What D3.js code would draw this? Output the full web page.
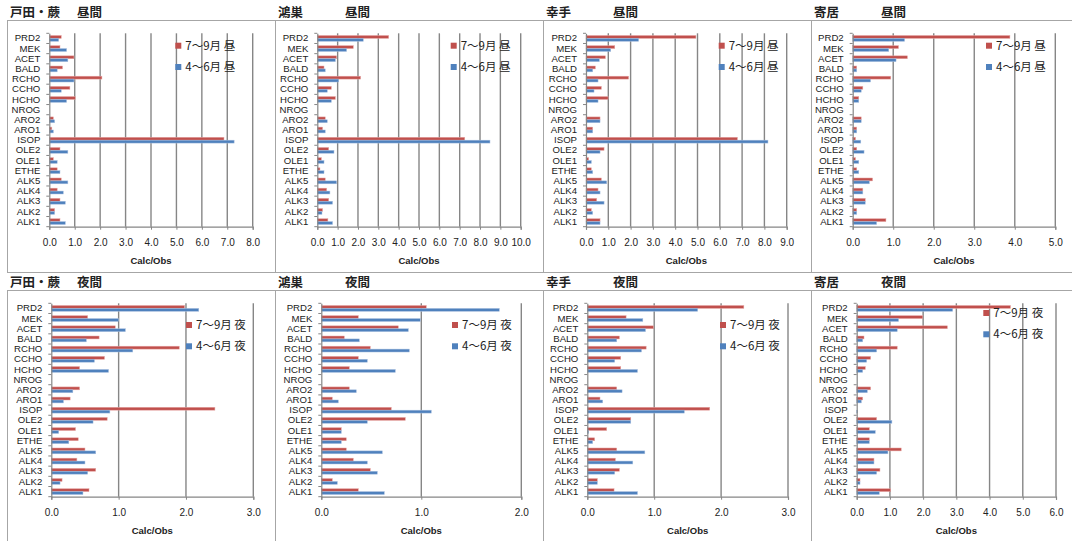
<!DOCTYPE html>
<html><head><meta charset="utf-8">
<script src="https://cdn.jsdelivr.net/npm/d3@7"></script>
<style>
body{margin:0;background:#fff;}
svg{display:block;}
</style></head>
<body>
<svg id="chart" width="1072" height="541"></svg>
<script>
// ---------- data ----------
const categories = ["PRD2","MEK","ACET","BALD","RCHO","CCHO","HCHO","NROG","ARO2","ARO1","ISOP","OLE2","OLE1","ETHE","ALK5","ALK4","ALK3","ALK2","ALK1"];
const sites = ["戸田・蕨","鴻巣","幸手","寄居"];
const periods = ["昼間","夜間"];
const seriesDay = ["7～9月 昼","4～6月 昼"];
const seriesNight = ["7～9月 夜","4～6月 夜"];
const axisTitle = "Calc/Obs";
const xMaxDay = [8, 10, 9, 5];
const xMaxNight = [3, 2, 3, 6];

// 昼間 (day)
const todaDaySummer   = [0.47,0.42,0.97,0.52,2.07,0.81,1.02,0,0.16,0.10,6.87,0.42,0.16,0.31,0.47,0.31,0.42,0.21,0.42];
const todaDaySpring   = [0.37,0.68,0.73,0.31,0.97,0.47,0.68,0,0.21,0.16,7.27,0.73,0.31,0.42,0.73,0.55,0.63,0.21,0.63];
const konosuDaySummer = [3.51,1.77,0.95,0.33,2.13,0.69,0.89,0,0.39,0.26,7.25,0.56,0.20,0.13,0.39,0.46,0.56,0.26,0.52];
const konosuDaySpring = [2.26,1.44,0.89,0.39,1.05,0.49,0.69,0,0.49,0.39,8.49,0.82,0.33,0.33,0.95,0.62,0.75,0.23,0.75];
const satteDaySummer  = [4.93,1.29,0.87,0.42,1.91,0.69,0.99,0,0.63,0.30,6.79,0.81,0.12,0.24,0.69,0.54,0.48,0.24,0.63];
const satteDaySpring  = [2.36,1.11,0.60,0.30,0.54,0.36,0.54,0,0.63,0.30,8.16,0.63,0.24,0.30,0.93,0.63,0.81,0.30,0.63];
const yoriiDaySummer  = [3.88,1.13,1.35,0.10,0.94,0.25,0.15,0,0.21,0.10,0.07,0.10,0.07,0.10,0.49,0.25,0.31,0.10,0.82];
const yoriiDaySpring  = [1.28,0.89,1.07,0.10,0.44,0.21,0.15,0,0.21,0.10,0.20,0.28,0.15,0.15,0.41,0.25,0.31,0.10,0.59];
// 夜間 (night)
const todaNightSummer   = [1.98,0.54,0.95,0.71,1.90,0.79,0.42,0,0.42,0.28,2.43,0.83,0.36,0.40,0.50,0.38,0.66,0.16,0.56];
const todaNightSpring   = [2.19,1.00,1.10,0.52,1.21,0.64,0.85,0,0.32,0.18,0.87,0.62,0.11,0.26,0.66,0.50,0.54,0.13,0.47];
const konosuNightSummer = [1.05,0.37,0.77,0.23,0.49,0.37,0.28,0,0.28,0.11,0.70,0.84,0.20,0.25,0.25,0.32,0.49,0.11,0.37];
const konosuNightSpring = [1.78,0.99,0.87,0.38,0.88,0.46,0.74,0,0.35,0.17,1.10,0.46,0.20,0.20,0.61,0.46,0.56,0.16,0.63];
const satteNightSummer  = [2.34,0.58,0.99,0.48,0.88,0.50,0.50,0,0.44,0.19,1.83,0.65,0.29,0.11,0.44,0.42,0.48,0.15,0.40];
const satteNightSpring  = [1.65,0.83,0.87,0.44,0.81,0.41,0.75,0,0.52,0.23,1.45,0.65,0.02,0.08,0.86,0.68,0.41,0.15,0.75];
const yoriiNightSummer  = [4.63,1.99,2.73,0.22,1.22,0.42,0.26,0,0.42,0.18,0.00,0.60,0.38,0.38,1.34,0.52,0.70,0.10,1.02];
const yoriiNightSpring  = [2.89,1.26,1.22,0.18,0.60,0.30,0.18,0,0.32,0.14,0.03,1.06,0.56,0.38,0.94,0.52,0.60,0.10,0.68];

// ---------- panel table ----------
const panels = [
  {site:sites[0], period:periods[0], names:seriesDay, a:todaDaySummer,   b:todaDaySpring,   max:xMaxDay[0]},
  {site:sites[1], period:periods[0], names:seriesDay, a:konosuDaySummer, b:konosuDaySpring, max:xMaxDay[1]},
  {site:sites[2], period:periods[0], names:seriesDay, a:satteDaySummer,  b:satteDaySpring,  max:xMaxDay[2]},
  {site:sites[3], period:periods[0], names:seriesDay, a:yoriiDaySummer,  b:yoriiDaySpring,  max:xMaxDay[3]},
  {site:sites[0], period:periods[1], names:seriesNight, a:todaNightSummer,   b:todaNightSpring,   max:xMaxNight[0]},
  {site:sites[1], period:periods[1], names:seriesNight, a:konosuNightSummer, b:konosuNightSpring, max:xMaxNight[1]},
  {site:sites[2], period:periods[1], names:seriesNight, a:satteNightSummer,  b:satteNightSpring,  max:xMaxNight[2]},
  {site:sites[3], period:periods[1], names:seriesNight, a:yoriiNightSummer,  b:yoriiNightSpring,  max:xMaxNight[3]}
];

// ---------- layout (per panel, relative to panel origin) ----------
const layout = [
  {l:49.3, r:252.7, lx:175.3, ly:[45.7,67]},
  {l:49.3, r:252.7, lx:182.7, ly:[45.7,67]},
  {l:50.0, r:250.7, lx:182.7, ly:[45.7,67]},
  {l:48.7, r:251.3, lx:182.0, ly:[45.7,67]},
  {l:51.3, r:253.3, lx:186.0, ly:[55,76.3]},
  {l:53.3, r:253.3, lx:184.0, ly:[55,76.3]},
  {l:51.3, r:252.0, lx:184.0, ly:[55,76.3]},
  {l:52.7, r:252.0, lx:179.3, ly:[43,64.3]}
];
const RED = "#C0504D", BLUE = "#4F81BD", AXIS = "#868686", FRAME = "#a6a6a6";
const latin = "'Liberation Sans', Arial, sans-serif";
const cjk = "'Noto Sans CJK JP', sans-serif";

const svg = d3.select("#chart");

// frame lines (chart object borders)
const frame = svg.append("g").attr("stroke", FRAME).attr("stroke-width", 1).attr("fill","none");
[20.5, 272.5, 290.5].forEach(y => frame.append("line").attr("x1",7).attr("x2",1072).attr("y1",y).attr("y2",y));
[7.5, 275.5, 543.5, 811.5].forEach(x => {
  frame.append("line").attr("x1",x).attr("x2",x).attr("y1",20.5).attr("y2",272.5);
  frame.append("line").attr("x1",x).attr("x2",x).attr("y1",290.5).attr("y2",541);
});

panels.forEach((p, i) => {
  const col = i % 4, row = Math.floor(i / 4);
  const L = layout[i];
  const g = svg.append("g").attr("transform", `translate(${col*268},${row*270})`);
  const top = 33.3, bottom = 226.7;

  const x = d3.scaleLinear().domain([0, p.max]).range([L.l, L.r]);
  const y = d3.scaleBand().domain(categories).range([top, bottom]).paddingInner(0).paddingOuter(0);
  const bw = y.bandwidth() / 3.5;
  const ticks = d3.range(0, p.max + 0.001, 1);

  // title
  g.append("text").attr("x", 10).attr("y", 17).attr("font-family", cjk).attr("font-size", 12.5)
    .attr("font-weight", 700).attr("fill", "#222").text(p.site);
  g.append("text").attr("x", 77).attr("y", 17).attr("font-family", cjk).attr("font-size", 12.5)
    .attr("font-weight", 700).attr("fill", "#222").text(p.period);

  // gridlines
  g.append("g").selectAll("line").data(ticks.filter(t => t > 0)).join("line")
    .attr("x1", d => x(d)).attr("x2", d => x(d)).attr("y1", top).attr("y2", bottom)
    .attr("stroke", AXIS).attr("stroke-width", 1.4);

  // bars
  const gb = g.append("g");
  gb.selectAll("rect.a").data(p.a).join("rect").attr("class","a")
    .attr("x", x(0)).attr("y", (d, k) => y(categories[k]) + y.bandwidth()/2 - bw)
    .attr("width", d => Math.max(0, x(d) - x(0))).attr("height", bw)
    .attr("fill", RED).attr("stroke", "#e8a9a7").attr("stroke-width", 0.5);
  gb.selectAll("rect.b").data(p.b).join("rect").attr("class","b")
    .attr("x", x(0)).attr("y", (d, k) => y(categories[k]) + y.bandwidth()/2)
    .attr("width", d => Math.max(0, x(d) - x(0))).attr("height", bw)
    .attr("fill", BLUE).attr("stroke", "#a9c0e0").attr("stroke-width", 0.5);

  // x axis
  const xa = g.append("g").attr("transform", `translate(0,${bottom})`)
    .call(d3.axisBottom(x).tickValues(ticks).tickFormat(d3.format(".1f")).tickSize(3).tickPadding(9));
  xa.select(".domain").attr("stroke", AXIS).attr("stroke-width", 1.2);
  xa.selectAll(".tick line").attr("stroke", AXIS);
  xa.selectAll("text").attr("font-family", latin).attr("font-size", 10).attr("fill", "#222");

  // y axis
  const ya = g.append("g").attr("transform", `translate(${L.l},0)`)
    .call(d3.axisLeft(y).tickSize(0).tickPadding(9));
  ya.select(".domain").attr("stroke", AXIS).attr("stroke-width", 1.2);
  ya.selectAll("text").attr("font-family", latin).attr("font-size", 9.6).attr("fill", "#222");
  // category boundary ticks
  ya.append("g").selectAll("line").data(d3.range(categories.length + 1)).join("line")
    .attr("x1", -3).attr("x2", 0)
    .attr("y1", k => top + k * y.step()).attr("y2", k => top + k * y.step())
    .attr("stroke", AXIS).attr("stroke-width", 1);

  // axis title
  g.append("text").attr("x", (L.l + L.r) / 2).attr("y", 264).attr("text-anchor", "middle")
    .attr("font-family", latin).attr("font-size", 9.5).attr("font-weight", 700).attr("fill", "#222")
    .text(axisTitle);

  // legend
  const colors = [RED, BLUE];
  p.names.forEach((n, k) => {
    const cy = L.ly[k];
    g.append("rect").attr("x", L.lx).attr("y", cy - 3).attr("width", 6).attr("height", 6).attr("fill", colors[k]);
    g.append("text").attr("x", L.lx + 10).attr("y", cy).attr("dy", "0.36em")
      .attr("font-family", cjk).attr("font-size", 11.5).attr("fill", "#222").text(n);
  });
});
</script>
</body></html>
